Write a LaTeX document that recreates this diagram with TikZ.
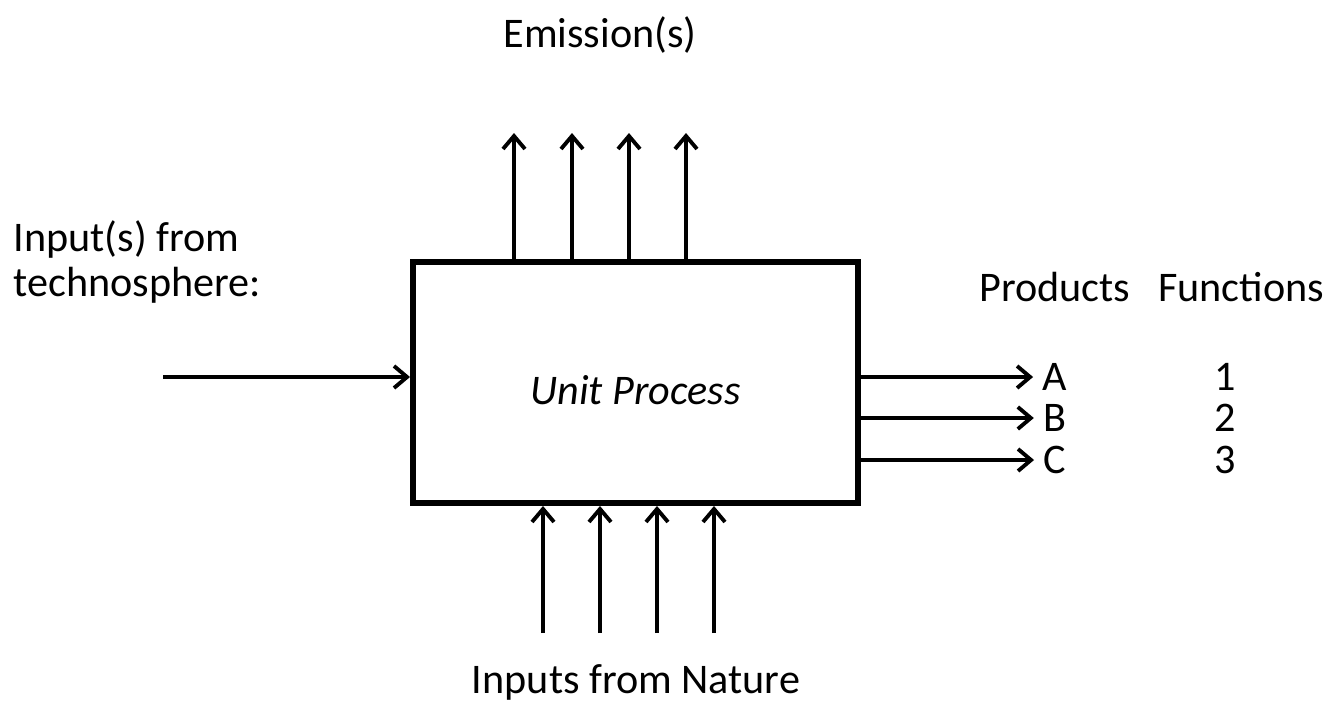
\documentclass[tikz,border=0pt]{standalone}
\usepackage{fontspec}
\setmainfont{Carlito}
\usetikzlibrary{arrows.meta}

\begin{document}
\begin{tikzpicture}[>={Straight Barb[length=2.6mm,width=4.4mm]},
  flow/.style={->,line width=2.2pt},
  lbl/.style={font=\fontsize{24}{26}\selectfont}]
  \useasboundingbox (0,0) rectangle (26.52,-14.16);
  \node[draw,line width=3.4pt,minimum width=8.9cm,minimum height=4.82cm] (unit) at (12.71,-7.65) {};
  \node[font=\fontsize{24}{26}\selectfont\itshape] (uname) at ([yshift=-0.15cm]unit.center) {Unit Process};
  % emissions
  \foreach \x [count=\i] in {10.28,11.44,12.58,13.72} {
    \coordinate (e\i) at (\x,-2.66);
    \draw[flow] (unit.north -| e\i) -- (e\i);
  }
  \node[lbl] (emis) at (12.0,-0.7) {Emission(s)};
  % inputs from nature
  \foreach \x [count=\i] in {10.86,12.0,13.14,14.28} {
    \coordinate (n\i) at (\x,-12.66);
    \draw[flow] (n\i) -- (unit.south -| n\i);
  }
  \node[lbl,anchor=base,inner sep=0pt] (nature) at (12.72,-13.86) {Inputs from Nature};
  % technosphere
  \node[lbl,anchor=west,align=left] (techno) at (0.15,-5.24) {Input(s) from\\technosphere:};
  \coordinate (t0) at (3.26,-7.54);
  \draw[flow] (t0) -- (unit.west |- t0);
  % products
  \node[lbl] (prod) at (21.1,-5.74) {Products};
  \node[lbl] (func) at (24.82,-5.74) {Functions};
  \foreach \y/\p/\f in {-7.54/A/1,-8.36/B/2,-9.2/C/3} {
    \node[lbl] (p\p) at (21.1,\y) {\p};
    \node[lbl] (f\f) at (24.5,\y) {\f};
    \draw[flow] (unit.east |- p\p) -- ([xshift=-2pt]p\p.west);
  }
\end{tikzpicture}
\end{document}
